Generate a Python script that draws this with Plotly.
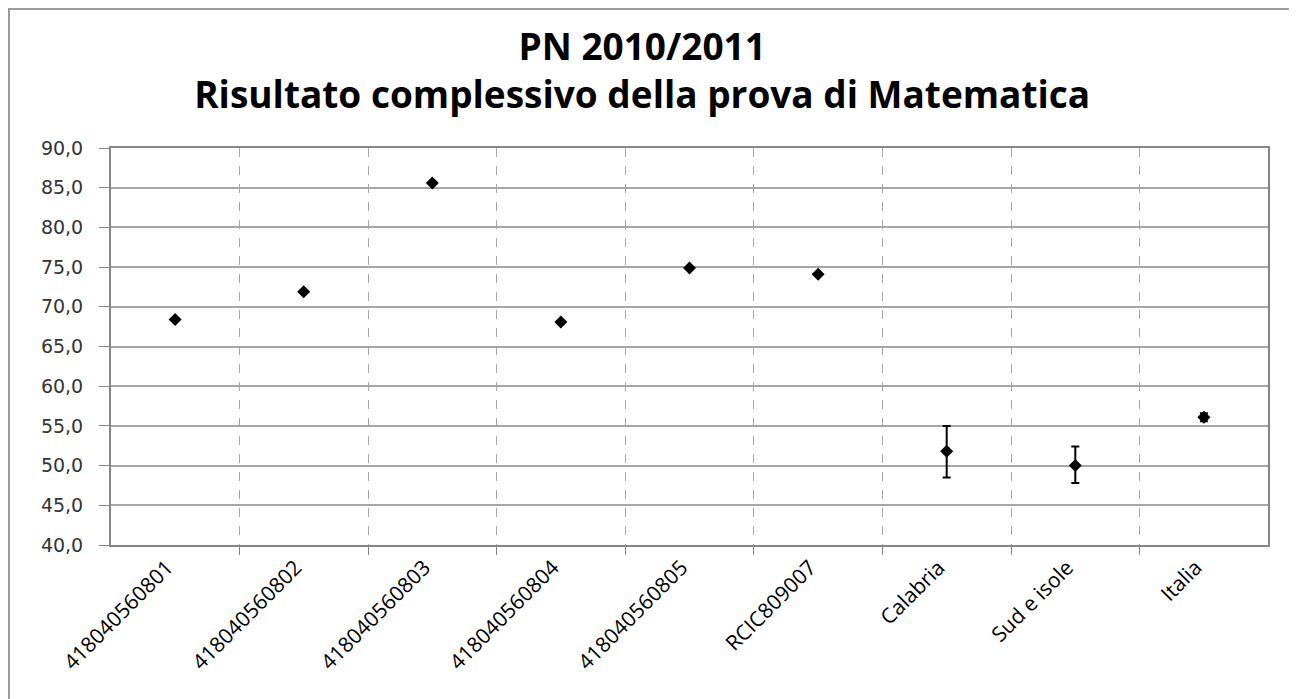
import plotly.graph_objects as go

# ---- data ----
categories = [
    "418040560801", "418040560802", "418040560803", "418040560804",
    "418040560805", "RCIC809007", "Calabria", "Sud e isole", "Italia",
]
scores = [68.4, 71.9, 85.6, 68.1, 74.9, 74.1, 51.8, 50.0, 56.1]
err_plus = [None, None, None, None, None, None, 3.2, 2.4, 0.5]
err_minus = [None, None, None, None, None, None, 3.3, 2.2, 0.5]

y_ticks = [40, 45, 50, 55, 60, 65, 70, 75, 80, 85, 90]

GRID = "#a6a6a6"
AXIS = "#868686"

fig = go.Figure()

fig.add_trace(go.Scatter(
    x=categories,
    y=scores,
    mode="markers",
    marker=dict(symbol="diamond", size=10, color="black"),
    error_y=dict(
        type="data",
        symmetric=False,
        array=err_plus,
        arrayminus=err_minus,
        color="black",
        thickness=2,
        width=4,
    ),
    showlegend=False,
))

# outer chart frame
fig.add_shape(
    type="rect", xref="paper", yref="paper",
    x0=-0.0882, x1=1.0233, y0=-0.5, y1=1.350,
    line=dict(color="#9a9a9a", width=2),
    fillcolor="rgba(0,0,0,0)", layer="below",
)

# page body has an 8px margin, so the figure is a bit smaller than the window
fig.update_layout(
    width=1289,
    height=691,
    margin=dict(l=103, r=29, t=140, b=154),
    paper_bgcolor="white",
    plot_bgcolor="white",
    title=dict(
        text="PN 2010/2011<br>Risultato complessivo della prova di Matematica",
        x=0.492, xanchor="center",
        y=0.925, yanchor="top",
        font=dict(family="Open Sans", size=37, color="black", weight="bold"),
    ),
    separators=",.",
)

fig.update_xaxes(
    type="category",
    categoryorder="array",
    categoryarray=categories,
    tickson="boundaries",
    ticks="outside",
    ticklen=8,
    tickcolor=AXIS,
    tickangle=-45,
    ticklabelshift=-8,
    tickfont=dict(family="Open Sans", size=21, color="black"),
    showgrid=True,
    gridcolor=GRID,
    griddash="dash",
    gridwidth=1,
    showline=True,
    linecolor=AXIS,
    linewidth=2,
    mirror=True,
)

fig.update_yaxes(
    range=[40, 90],
    tickvals=y_ticks,
    tickformat=".1f",
    ticks="outside",
    ticklen=10,
    tickcolor=AXIS,
    ticklabelstandoff=12,
    tickfont=dict(family="DejaVu Sans", size=19, color="#333333"),
    showgrid=True,
    gridcolor=GRID,
    gridwidth=1.5,
    showline=True,
    linecolor=AXIS,
    linewidth=2,
    mirror=True,
    zeroline=False,
)

fig.write_html("out.html")
